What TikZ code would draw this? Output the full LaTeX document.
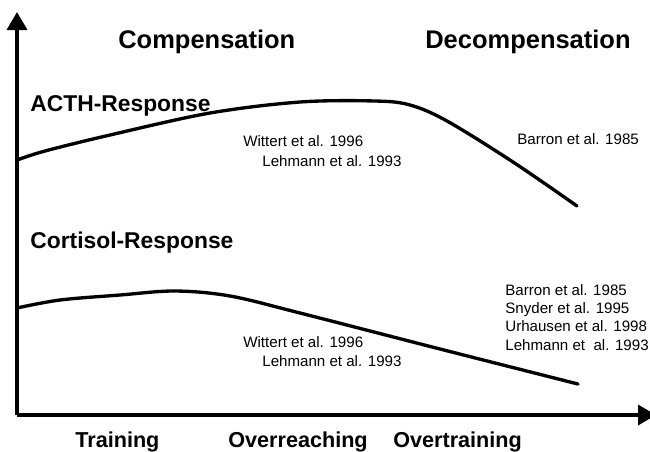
\documentclass[tikz,border=0pt]{standalone}
\usepackage{fontspec}
\setmainfont{Liberation Sans}
\usetikzlibrary{arrows.meta}
\tikzset{every node/.style={inner sep=0pt,anchor=base west}}
\tikzset{axis/.style={line width=2pt,-{Triangle[width=0.4cm,length=0.36cm]}}}
\tikzset{resp/.style={line width=1.9pt,line cap=round}}
\tikzset{phase/.style={font=\fontsize{14.5}{16}\selectfont\bfseries}}
\tikzset{hormone/.style={font=\fontsize{13}{15}\selectfont\bfseries}}
\tikzset{cite/.style={font=\fontsize{8.6}{10}\selectfont}}
\tikzset{stage/.style={font=\fontsize{12.3}{14}\selectfont\bfseries}}

\begin{document}
\begin{tikzpicture}[x=0.02cm,y=-0.02cm]
\useasboundingbox (0,0) rectangle (650,451);
\coordinate (origin) at (17,415);
\coordinate (ytip) at (17,12);
\coordinate (xtip) at (656,415);

\draw[axis] (origin) -- (ytip);
\draw[axis] (origin) -- (xtip);

\node[phase](comp) at (118,48) {Compensation};
\node[phase](decomp) at (425,48) {Decompensation};

\node[hormone](acth) at (30,111) {ACTH-Response};
\draw[resp] plot[smooth,tension=0.55] coordinates {(17,160) (45,151) (110,135) (210,113) (300,102) (375,101) (410,105) (447,121) (513,162) (577,206)};
\node[cite](wit1) at (243,146) {Wittert et al. 1996};
\node[cite](leh1) at (262,166) {Lehmann et al. 1993};
\node[cite](bar1) at (517,144) {Barron et al. 1985};

\node[hormone](cort) at (30,248) {Cortisol-Response};
\draw[resp] plot[smooth,tension=0.55] coordinates {(17,308) (60,300) (120,295) (175,291) (230,296) (300,313) (440,349) (578,384)};
\node[cite](wit2) at (243,347) {Wittert et al. 1996};
\node[cite](leh2) at (262,366) {Lehmann et al. 1993};
\node[cite](bar2) at (505,295) {Barron et al. 1985};
\node[cite](sny) at (505,313) {Snyder et al. 1995};
\node[cite](urh) at (505,331) {Urhausen et al. 1998};
\node[cite](leh3) at (505,350) {Lehmann et\ \ al. 1993};

\node[stage](train) at (75,447) {Training};
\node[stage](reach) at (228,447) {Overreaching};
\node[stage](over) at (393,447) {Overtraining};
\end{tikzpicture}
\end{document}
